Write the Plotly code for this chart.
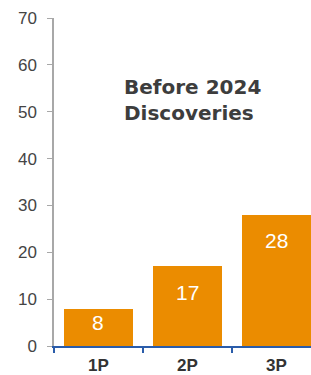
import plotly.graph_objects as go

categories = ["1P", "2P", "3P"]
values = [8, 17, 28]
y_ticks = [0, 10, 20, 30, 40, 50, 60, 70]
title_lines = ["Before 2024", "Discoveries"]
label_offsets = [-14, -26, -26]  # pixel offset of value labels below bar tops

fig = go.Figure()
fig.add_trace(go.Bar(
    x=categories, y=values,
    marker=dict(color="#EB8C00", line=dict(width=0)),
    width=0.775,
    hoverinfo="skip",
))

for cat, val, off in zip(categories, values, label_offsets):
    fig.add_annotation(
        x=cat, y=val, xref="x", yref="y", yshift=off,
        text=str(val), showarrow=False, xanchor="center", yanchor="middle",
        font=dict(family="Liberation Sans, Arial", size=21, color="white"),
    )

fig.add_annotation(
    x=0.264, xref="paper", y=52.6, yref="y",
    text="<br>".join("<b>" + t + "</b>" for t in title_lines),
    showarrow=False, xanchor="left", yanchor="middle", align="left",
    font=dict(family="DejaVu Sans", size=20, color="#3d3d3d"),
)

fig.update_layout(
    width=311, height=375,
    margin=dict(l=54, r=0, t=18, b=29),
    paper_bgcolor="white", plot_bgcolor="white",
    showlegend=False,
    bargap=0,
    xaxis=dict(
        range=[-0.5, 2.39], automargin=False,
        showline=True, linecolor="#2a5caa", linewidth=2,
        ticks="outside", tickson="boundaries", ticklen=5, tickcolor="#2a5caa", tickwidth=2,
        tickfont=dict(family="Liberation Sans, Arial", size=17, color="#333333"),
        tickprefix="<b>", ticksuffix="</b>",
        ticklabelstandoff=3,
        showgrid=False, zeroline=False, fixedrange=True,
    ),
    yaxis=dict(
        range=[0, 70], tickvals=y_ticks, automargin=False,
        showline=True, linecolor="#a8a8a8", linewidth=1.5,
        ticks="outside", ticklen=5, tickcolor="#a8a8a8",
        tickfont=dict(family="Liberation Sans, Arial", size=17, color="#444444"),
        ticklabelstandoff=7,
        showgrid=False, zeroline=False, fixedrange=True,
    ),
)

fig.write_html("out.html", config={"displayModeBar": False},
               post_script="document.body.style.margin='0';")
